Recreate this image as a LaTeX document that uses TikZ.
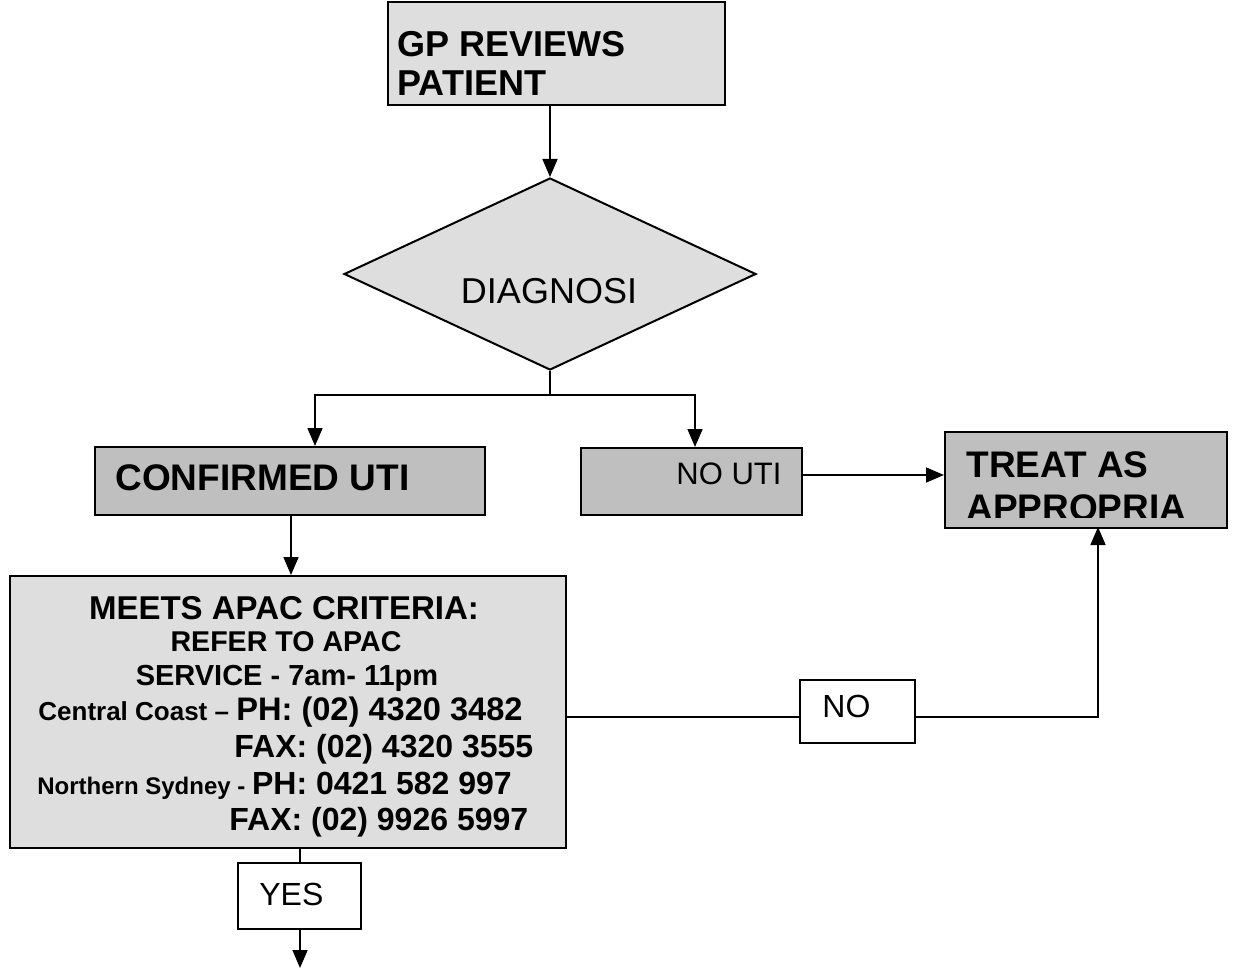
\documentclass[tikz,border=0pt]{standalone}
\usepackage{fontspec}
\setmainfont{Liberation Sans}
\usetikzlibrary{shapes.geometric,arrows.meta}
\definecolor{boxlight}{gray}{0.87}
\definecolor{boxdark}{gray}{0.75}
\newcommand{\fs}[1]{\fontsize{#1}{#1}\selectfont}
\begin{document}
\begin{tikzpicture}[
  x=0.5pt, y=-0.5pt,
  box/.style={draw, line width=1pt, inner sep=0pt},
  light/.style={box, fill=boxlight},
  dark/.style={box, fill=boxdark},
  plain/.style={box, fill=white},
  txt/.style={inner sep=0pt, anchor=base west},
  ctxt/.style={inner sep=0pt, anchor=base},
  conn/.style={line width=0.8pt},
  arr/.style={conn, -{Triangle[length=9pt,width=7.5pt]}}
]
\useasboundingbox (0,0) rectangle (1234,968);
% boxes
\node[light, minimum width=168.5pt, minimum height=51.5pt] (gp) at (556.5,53.5) {};
\node[diamond, light, minimum width=206pt, minimum height=96pt] (diag) at (550,274) {};
\node[dark, minimum width=195pt, minimum height=34pt] (conf) at (289.5,481) {};
\node[dark, minimum width=110.5pt, minimum height=33.5pt] (nouti) at (691.5,481.5) {};
\node[dark, minimum width=141pt, minimum height=48pt] (treat) at (1086,480) {};
\node[light, minimum width=278pt, minimum height=136pt] (meets) at (288,712) {};
\node[plain, minimum width=57.5pt, minimum height=31.5pt] (no) at (857.5,711.5) {};
\node[plain, minimum width=61.5pt, minimum height=33pt] (yes) at (299.5,896) {};
% texts
\node[txt, font=\bfseries\fs{18}] (gp1) at (397,57) {GP REVIEWS};
\node[txt, font=\bfseries\fs{18}] (gp2) at (397,96) {PATIENT};
\node[ctxt, font=\fs{18}] (diagtext) at (549,303) {DIAGNOSI};
\node[txt, font=\bfseries\fs{18.5}] (conftext) at (115,490) {CONFIRMED UTI};
\node[txt, font=\fs{15.5}] (nooutitext) at (676,484) {NO UTI};
\begin{scope}
  \clip (treat.north west) rectangle (treat.east |- 0,517);
  \node[txt, font=\bfseries\fs{18.5}] (treat1) at (966,477) {TREAT AS};
  \node[txt, font=\bfseries\fs{18.5}] (treat2) at (966,520) {APPROPRIA};
\end{scope}
\node[ctxt, font=\bfseries\fs{16.5}] (m1) at (284,619) {MEETS APAC CRITERIA:};
\node[ctxt, font=\bfseries\fs{14.3}] (m2) at (286,651) {REFER TO APAC};
\node[ctxt, font=\bfseries\fs{14.5}] (m3) at (287,685) {SERVICE - 7am- 11pm};
\node[txt, font=\bfseries\fs{16.3}] (m4) at (38,720) {{\fs{13}Central Coast – }PH: (02) 4320 3482};
\node[txt, font=\bfseries\fs{16}] (m5) at (234,757) {FAX: (02) 4320 3555};
\node[txt, font=\bfseries\fs{16}] (m6) at (37,794) {{\fs{12}Northern Sydney - }PH: 0421 582 997};
\node[txt, font=\bfseries\fs{16}] (m7) at (229,830) {FAX: (02) 9926 5997};
\node[txt, font=\fs{16}] (notext) at (822,717) {NO};
\node[txt, font=\fs{16}] (yestext) at (259,905) {YES};
% connectors
\coordinate (split) at (550,395);
\coordinate (nolevel) at (0,717);
\coordinate (treatin) at (1098,527);
\coordinate (down) at (300,968);
\draw[arr] (diag.north |- gp.south) -- (diag.north);
\draw[conn] (diag.south) -- (split);
\draw[arr] (split) -| (conf.north -| 315,0);
\draw[arr] (split) -| (nouti.north -| 695,0);
\draw[arr] (nouti.east |- 0,475) -- (treat.west |- 0,475);
\draw[arr] (conf.south -| 291,0) -- (meets.north -| 291,0);
\draw[conn] (meets.east |- nolevel) -- (no.west |- nolevel);
\draw[arr] (no.east |- nolevel) -| (treatin);
\draw[conn] (meets.south -| down) -- (yes.north -| down);
\draw[arr] (yes.south -| down) -- (down);
\end{tikzpicture}
\end{document}
